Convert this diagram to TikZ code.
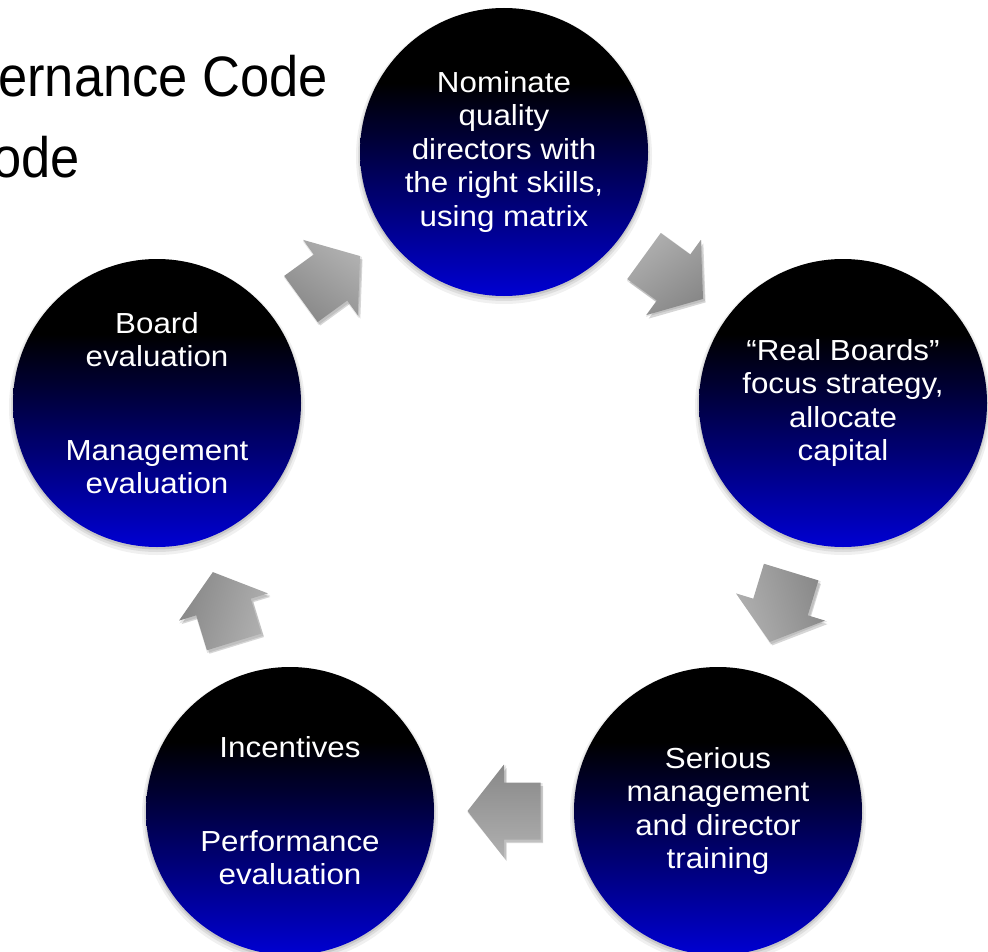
\documentclass[tikz,border=0pt]{standalone}
\usepackage{fontspec}
\setmainfont{Liberation Sans}
\newfontfamily\circfont{Liberation Sans}[FakeStretch=1.08]
\newfontfamily\titlefont{Liberation Sans}[FakeStretch=0.92]
\usetikzlibrary{calc,backgrounds}
\definecolor{cblue}{RGB}{0,0,210}
\definecolor{atop}{RGB}{176,176,176}
\definecolor{abot}{RGB}{136,136,136}
\pgfdeclareverticalshading{circgrad}{100bp}{color(0bp)=(cblue); color(25bp)=(cblue); color(62bp)=(black); color(100bp)=(black)}
\begin{document}
\begin{tikzpicture}[x=1pt,y=-1pt,
  stage/.style={circle, minimum size=288pt, inner sep=0pt, outer sep=0pt,
    shade, shading=circgrad, text=white, align=center,
    font=\circfont\fontsize{29}{33.5}\selectfont},
  titletext/.style={anchor=base east, text=black, inner sep=0pt,
    font=\titlefont\fontsize{57}{60}\selectfont},
  blockarrow/.pic={
    \begin{scope}[rotate=-#1, shift={(2.5,3.5)}, rotate=#1]
      \fill[black, opacity=0.16] (-36.5,-28.5) -- (0,-28.5) -- (0,-46.5) -- (36.5,0)
        -- (0,46.5) -- (0,28.5) -- (-36.5,28.5) -- cycle;
    \end{scope}
    \begin{scope}[rotate=-#1, shift={(1,1.5)}, rotate=#1]
      \fill[black, opacity=0.10] (-37.5,-29.5) -- (-1,-29.5) -- (-1,-47.5) -- (37.5,0)
        -- (-1,47.5) -- (-1,29.5) -- (-37.5,29.5) -- cycle;
    \end{scope}
    \shade[top color=atop, bottom color=abot, shading angle=-#1]
      (-36.5,-28.5) -- (0,-28.5) -- (0,-46.5) -- (36.5,0)
      -- (0,46.5) -- (0,28.5) -- (-36.5,28.5) -- cycle;
  }]
\useasboundingbox (0,0) rectangle (988,952);
\clip (0,0) rectangle (988,952);

% title (partly cut at the left edge)
\node[titletext] (t1) at (328,97) {ernance Code};
\node[titletext] (t2) at (80,178) {ode};

% stages
\node[stage] (T)  at (504,152) {Nominate\\quality\\directors with\\the right skills,\\using matrix};
\node[stage] (R)  at (843,403) {“Real Boards”\\focus strategy,\\allocate\\capital};
\node[stage] (BR) at (718,811) {Serious\\management\\and director\\training};
\node[stage] (BL) at (290,811) {Incentives\\[60pt]Performance\\evaluation};
\node[stage] (L)  at (157,403) {Board\\evaluation\\[60pt]Management\\evaluation};

% soft shadows under the circles
\begin{pgfonlayer}{background}
  \foreach \n in {T,R,BR,BL,L}{
    \fill[black, opacity=0.06] ($(\n.center)+(0,4)$) circle (148);
    \fill[black, opacity=0.08] ($(\n.center)+(0,3)$) circle (146);
    \fill[black, opacity=0.10] ($(\n.center)+(0,2)$) circle (144.5);
  }
\end{pgfonlayer}

% cycle arrows between the stages
\pic[rotate=36]   at ($(L)!0.5!(T)$)   {blockarrow=36};
\pic[rotate=-36]  at ($(T)!0.5!(R)$)   {blockarrow=-36};
\pic[rotate=-107] at ($(R)!0.5!(BR)$)  {blockarrow=-107};
\pic[rotate=180]  at ($(BR)!0.5!(BL)$) {blockarrow=180};
\pic[rotate=107]  at ($(BL)!0.5!(L)$)  {blockarrow=107};
\end{tikzpicture}
\end{document}
